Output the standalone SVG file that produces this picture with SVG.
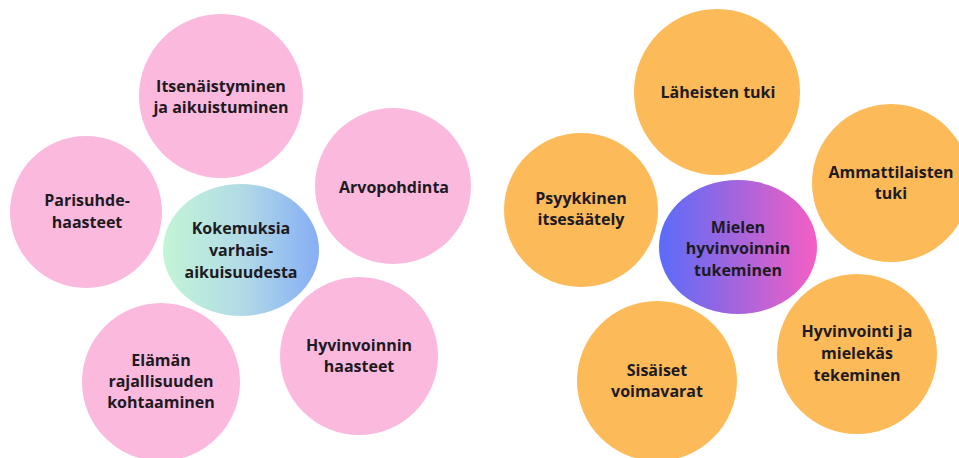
<svg xmlns="http://www.w3.org/2000/svg" width="959" height="458" viewBox="0 0 959 458">
<defs>
<linearGradient id="gLeft" x1="0" y1="0" x2="1" y2="0">
<stop offset="0" stop-color="#c3f5d6"/>
<stop offset="0.5" stop-color="#b2dbe6"/>
<stop offset="1" stop-color="#86aef5"/>
</linearGradient>
<linearGradient id="gRight" x1="0" y1="0" x2="1" y2="0">
<stop offset="0" stop-color="#5a6cfa"/>
<stop offset="0.5" stop-color="#a565dc"/>
<stop offset="1" stop-color="#f65ec4"/>
</linearGradient>
<style>
.pink{fill:#fbb9de}
.orange{fill:#fcba59}
text{font-family:"Open Sans","Liberation Sans",sans-serif;font-weight:bold;font-size:16px;fill:#1d1a22;text-anchor:middle}
</style>
</defs>
<rect width="959" height="458" fill="#ffffff"/>
<g id="connectors"/>
<g id="n-itsenaistyminen"><circle class="pink" cx="221" cy="96" r="82"/><text x="221" y="92">Itsenäistyminen</text><text x="221" y="113">ja aikuistuminen</text></g>
<g id="n-arvopohdinta"><circle class="pink" cx="393" cy="186" r="78"/><text x="394" y="193">Arvopohdinta</text></g>
<g id="n-parisuhde"><circle class="pink" cx="86" cy="212" r="76"/><text x="87" y="206">Parisuhde-</text><text x="87" y="228">haasteet</text></g>
<g id="n-kokemuksia"><ellipse fill="url(#gLeft)" cx="241" cy="250" rx="78" ry="66"/><text x="241" y="234">Kokemuksia</text><text x="241" y="256">varhais-</text><text x="241" y="278">aikuisuudesta</text></g>
<g id="n-elaman"><circle class="pink" cx="161" cy="382" r="79"/><text x="161" y="366">Elämän</text><text x="161" y="387">rajallisuuden</text><text x="161" y="408">kohtaaminen</text></g>
<g id="n-hyvinvoinnin-haasteet"><circle class="pink" cx="359" cy="356" r="79"/><text x="359" y="351">Hyvinvoinnin</text><text x="359" y="372">haasteet</text></g>
<g id="n-laheisten"><circle class="orange" cx="717" cy="92" r="83"/><text x="718" y="98">Läheisten tuki</text></g>
<g id="n-ammattilaisten"><circle class="orange" cx="891" cy="183" r="79"/><text x="891" y="178">Ammattilaisten</text><text x="891" y="199">tuki</text></g>
<g id="n-psyykkinen"><circle class="orange" cx="581" cy="210" r="77"/><text x="581" y="204">Psyykkinen</text><text x="581" y="225">itsesäätely</text></g>
<g id="n-mielen"><ellipse fill="url(#gRight)" cx="738" cy="247" rx="79" ry="67"/><text x="738" y="233">Mielen</text><text x="738" y="254">hyvinvoinnin</text><text x="738" y="276">tukeminen</text></g>
<g id="n-sisaiset"><circle class="orange" cx="657" cy="381" r="80"/><text x="657" y="376">Sisäiset</text><text x="657" y="397">voimavarat</text></g>
<g id="n-hyvinvointi"><circle class="orange" cx="857" cy="354" r="80"/><text x="857" y="337">Hyvinvointi ja</text><text x="857" y="359">mielekäs</text><text x="857" y="381">tekeminen</text></g>
</svg>
